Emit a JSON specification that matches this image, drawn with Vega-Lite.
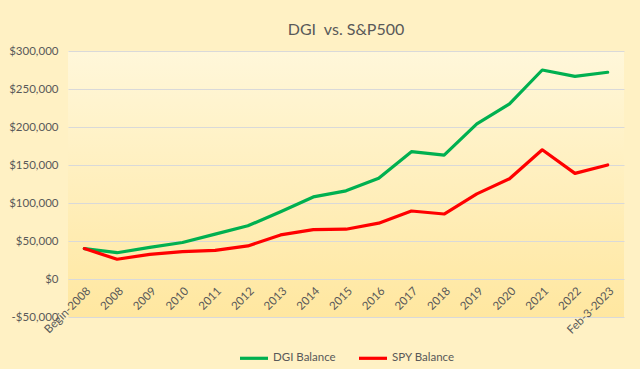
{
  "$schema": "https://vega.github.io/schema/vega-lite/v6.json",
  "width": 556,
  "height": 266,
  "padding": {"left": 8, "top": 22, "right": 16, "bottom": 4},
  "autosize": {"type": "pad"},
  "background": "#FFF1C4",
  "title": {
    "text": "DGI \u00a0vs. S&P500",
    "font": "Lato",
    "fontSize": 16,
    "fontWeight": "normal",
    "color": "#595959",
    "offset": 7,
    "anchor": "middle"
  },
  "config": {
    "view": {
      "stroke": null,
      "fill": {
        "gradient": "linear",
        "x1": 0, "y1": 0, "x2": 0, "y2": 1,
        "stops": [
          {"offset": 0, "color": "#FFF7DA"},
          {"offset": 1, "color": "#FFE7A0"}
        ]
      }
    },
    "font": "Lato",
    "legend": {"layout": {"bottom": {"anchor": "middle"}}}
  },
  "data": {
    "values": [
      {"period": "Begin-2008", "series": "DGI Balance", "value": 40000},
      {"period": "2008", "series": "DGI Balance", "value": 34600},
      {"period": "2009", "series": "DGI Balance", "value": 41700},
      {"period": "2010", "series": "DGI Balance", "value": 48000},
      {"period": "2011", "series": "DGI Balance", "value": 59000},
      {"period": "2012", "series": "DGI Balance", "value": 70000},
      {"period": "2013", "series": "DGI Balance", "value": 88500},
      {"period": "2014", "series": "DGI Balance", "value": 108000},
      {"period": "2015", "series": "DGI Balance", "value": 116000},
      {"period": "2016", "series": "DGI Balance", "value": 132500},
      {"period": "2017", "series": "DGI Balance", "value": 167500},
      {"period": "2018", "series": "DGI Balance", "value": 163000},
      {"period": "2019", "series": "DGI Balance", "value": 204000},
      {"period": "2020", "series": "DGI Balance", "value": 230500},
      {"period": "2021", "series": "DGI Balance", "value": 275000},
      {"period": "2022", "series": "DGI Balance", "value": 266700},
      {"period": "Feb-3-2023", "series": "DGI Balance", "value": 272000},
      {"period": "Begin-2008", "series": "SPY Balance", "value": 40000},
      {"period": "2008", "series": "SPY Balance", "value": 26000},
      {"period": "2009", "series": "SPY Balance", "value": 32500},
      {"period": "2010", "series": "SPY Balance", "value": 36000},
      {"period": "2011", "series": "SPY Balance", "value": 37700},
      {"period": "2012", "series": "SPY Balance", "value": 43500},
      {"period": "2013", "series": "SPY Balance", "value": 58000},
      {"period": "2014", "series": "SPY Balance", "value": 65000},
      {"period": "2015", "series": "SPY Balance", "value": 65500},
      {"period": "2016", "series": "SPY Balance", "value": 73500},
      {"period": "2017", "series": "SPY Balance", "value": 89500},
      {"period": "2018", "series": "SPY Balance", "value": 85500},
      {"period": "2019", "series": "SPY Balance", "value": 112000},
      {"period": "2020", "series": "SPY Balance", "value": 132000},
      {"period": "2021", "series": "SPY Balance", "value": 170000},
      {"period": "2022", "series": "SPY Balance", "value": 139000},
      {"period": "Feb-3-2023", "series": "SPY Balance", "value": 150000}
    ]
  },
  "mark": {"type": "line", "strokeWidth": 3.2, "strokeJoin": "round", "strokeCap": "round"},
  "encoding": {
    "x": {
      "field": "period",
      "type": "nominal",
      "sort": null,
      "scale": {"type": "point", "padding": 0.5},
      "axis": {
        "title": null,
        "labelAngle": -45,
        "labelFontSize": 11.5,
        "labelColor": "#595959",
        "domain": false,
        "ticks": false,
        "offset": -38,
        "labelPadding": 6
      }
    },
    "y": {
      "field": "value",
      "type": "quantitative",
      "scale": {"domain": [-50000, 300000], "nice": false},
      "axis": {
        "title": null,
        "values": [-50000, 0, 50000, 100000, 150000, 200000, 250000, 300000],
        "labelExpr": "datum.value < 0 ? '-$' + format(-datum.value, ',') : '$' + format(datum.value, ',')",
        "labelFontSize": 11.5,
        "labelColor": "#595959",
        "labelPadding": 10,
        "domain": false,
        "ticks": false,
        "gridColor": "#D9D9D9",
        "gridWidth": 1.2
      }
    },
    "color": {
      "field": "series",
      "type": "nominal",
      "scale": {"domain": ["DGI Balance", "SPY Balance"], "range": ["#00B050", "#FF0000"]},
      "legend": {
        "title": null,
        "orient": "bottom",
        "direction": "horizontal",
        "symbolType": "stroke",
        "symbolStrokeWidth": 3.2,
        "symbolSize": 784,
        "labelOffset": 3,
        "labelFontSize": 11.5,
        "labelColor": "#595959",
        "columnPadding": 16,
        "offset": 6
      }
    }
  }
}
